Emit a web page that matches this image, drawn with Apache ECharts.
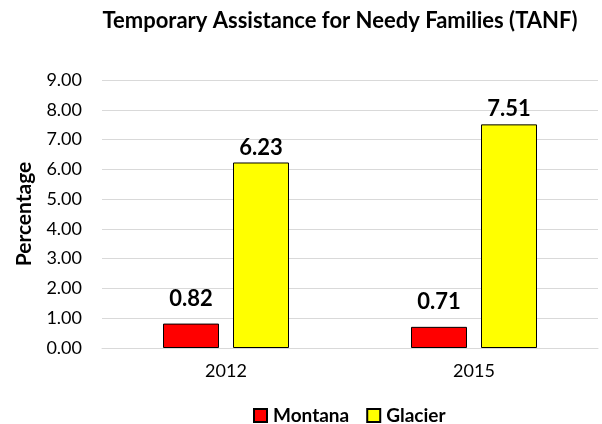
<!DOCTYPE html>
<html>
<head>
<meta charset="utf-8">
<script src="https://cdn.jsdelivr.net/npm/echarts@6/dist/echarts.min.js"></script>
<style>
  html, body { margin: 0; padding: 0; background: #fff; }
  #chart { width: 602px; height: 424px; }
</style>
</head>
<body>
<div id="chart"></div>
<script>
const years = ['2012', '2015'];
const montana = [0.82, 0.71];
const glacier = [6.23, 7.51];
const yTicks = ['0.00', '1.00', '2.00', '3.00', '4.00', '5.00', '6.00', '7.00', '8.00', '9.00'];

const font = 'Lato, "Open Sans", sans-serif';

const chart = echarts.init(document.getElementById('chart'));
const labelStyle = {
  show: true,
  position: 'top',
  distance: 14,
  fontFamily: font,
  fontWeight: 'bold',
  fontSize: 22,
  color: '#000',
  formatter: (p) => p.value.toFixed(2),
};

chart.setOption({
  animation: false,
  textStyle: { fontFamily: font },
  title: {
    text: 'Temporary Assistance for Needy Families (TANF)',
    left: 335,
    top: 5,
    textAlign: 'center',
    textStyle: { fontFamily: font, fontWeight: 'bold', fontSize: 22, color: '#000' },
  },
  legend: {
    top: 401,
    left: 248,
    itemWidth: 13,
    itemHeight: 13,
    itemGap: 17,
    icon: 'rect',
    textStyle: { fontFamily: font, fontWeight: 'bold', fontSize: 19, color: '#000', padding: [0, 0, 0, 1] },
    data: ['Montana', 'Glacier'],
  },
  grid: { left: 102, right: 4, top: 80, bottom: 76 },
  xAxis: {
    type: 'category',
    data: years,
    axisLine: { show: true, lineStyle: { color: '#d9d9d9' } },
    axisTick: { show: false },
    axisLabel: { fontFamily: font, fontSize: 18, color: '#000', margin: 14 },
  },
  yAxis: {
    type: 'value',
    min: 0,
    max: 9,
    interval: 1,
    name: 'Percentage',
    nameLocation: 'middle',
    nameGap: 67,
    nameTextStyle: { fontFamily: font, fontWeight: 'bold', fontSize: 21, color: '#000' },
    axisLine: { show: false },
    axisTick: { show: false },
    splitLine: { lineStyle: { color: '#d9d9d9', width: 1 } },
    axisLabel: {
      fontFamily: font, fontSize: 18, color: '#000', margin: 20,
      formatter: (v) => yTicks[Math.round(v)],
    },
  },
  series: [
    {
      name: 'Montana',
      type: 'bar',
      data: montana,
      barWidth: 56,
      barGap: '25%',
      itemStyle: { color: '#ff0000', borderColor: '#000', borderWidth: 1 },
      label: labelStyle,
    },
    {
      name: 'Glacier',
      type: 'bar',
      data: glacier,
      barWidth: 56,
      itemStyle: { color: '#ffff00', borderColor: '#000', borderWidth: 1 },
      label: Object.assign({}, labelStyle, { distance: 4 }),
    },
  ],
});
</script>
</body>
</html>
